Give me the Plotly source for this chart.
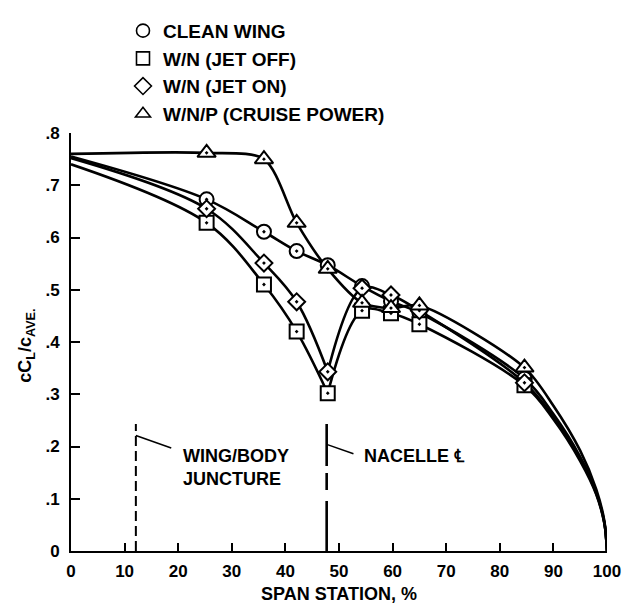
import plotly.graph_objects as go

# Spanwise stations (% semispan) where pressure data were taken
stations = [25.3, 36.0, 42.1, 47.9, 54.3, 59.7, 65.0, 84.6]

# Section loading cCl/cAVE at each station
clean_wing = [0.673, 0.611, 0.574, 0.547, 0.507, 0.478, 0.456, 0.330]
wn_jet_off = [0.628, 0.510, 0.420, 0.302, 0.460, 0.455, 0.434, 0.317]
wn_jet_on = [0.655, 0.551, 0.477, 0.343, 0.503, 0.490, 0.460, 0.322]
wnp_cruise = [0.762, 0.750, 0.628, 0.540, 0.475, 0.465, 0.470, 0.351]

# Faired curve ends: root value and outboard tip fall-off
root_station = 0.0
tip_stations = [90.0, 95.0, 98.0, 99.5, 100.0]
root_values = {"clean": 0.755, "off": 0.740, "on": 0.752, "cruise": 0.760}
tip_values = {
    "clean": [0.262, 0.180, 0.112, 0.055, 0.0],
    "off": [0.252, 0.172, 0.108, 0.053, 0.0],
    "on": [0.256, 0.176, 0.110, 0.054, 0.0],
    "cruise": [0.278, 0.192, 0.118, 0.058, 0.0],
}

# key, legend label, values, symbol, marker size, cusp station, fairing smoothness
series = [
    ("clean", "CLEAN WING", clean_wing, "circle", 14, None, 1.0),
    ("off", "W/N (JET OFF)", wn_jet_off, "square", 14, 47.9, 1.0),
    ("on", "W/N (JET ON)", wn_jet_on, "diamond", 13, 47.9, 1.0),
    ("cruise", "W/N/P (CRUISE POWER)", wnp_cruise, "triangle-up", 16, None, 0.8),
]

# Reference stations marked on the span axis
wing_body_station = 12.1
nacelle_station = 47.7

FONT = "Liberation Sans"
INK = "black"

fig = go.Figure()

# faired curves
for key, name, vals, symbol, msize, cusp, smooth in series:
    xs = [root_station] + stations + tip_stations
    ys = [root_values[key]] + vals + tip_values[key]
    if cusp is None:
        segments = [(xs, ys)]
    else:
        k = xs.index(cusp)
        segments = [(xs[:k + 1], ys[:k + 1]), (xs[k:], ys[k:])]
    for sx, sy in segments:
        fig.add_trace(go.Scatter(
            x=sx, y=sy, mode="lines", showlegend=False, hoverinfo="skip",
            line=dict(color=INK, width=2.6, shape="spline", smoothing=smooth),
        ))

# data symbols (open, with centre dot)
for key, name, vals, symbol, msize, cusp, smooth in series:
    fig.add_trace(go.Scatter(
        x=stations, y=vals, mode="markers", showlegend=False, cliponaxis=False,
        marker=dict(symbol=symbol + "-dot", size=msize, color="white",
                    line=dict(color=INK, width=2)),
    ))

# legend keys (plain open symbols)
for key, name, vals, symbol, msize, cusp, smooth in series:
    fig.add_trace(go.Scatter(
        x=[None], y=[None], mode="markers", name=name,
        marker=dict(symbol=symbol, size=13, color="white",
                    line=dict(color=INK, width=1.6)),
    ))

shapes = [
    # wing/body juncture line and leader
    dict(type="line", xref="x", yref="y", x0=wing_body_station, x1=wing_body_station,
         y0=0, y1=0.243, line=dict(color=INK, width=2, dash="10px,5px")),
    dict(type="line", xref="x", yref="y", x0=wing_body_station, x1=18.7,
         y0=0.221, y1=0.197, line=dict(color=INK, width=1.5)),
    # nacelle centreline and leader
    dict(type="line", xref="x", yref="y", x0=nacelle_station, x1=nacelle_station,
         y0=0, y1=0.243, line=dict(color=INK, width=2.6, dash="50px,11px,17px,7px,60px")),
    dict(type="line", xref="x", yref="y", x0=nacelle_station, x1=52.7,
         y0=0.204, y1=0.186, line=dict(color=INK, width=1.5)),
]

annotations = [
    dict(x=20.5, y=0.16, xref="x", yref="y", text="WING/BODY<br>JUNCTURE",
         showarrow=False, xanchor="left", yanchor="middle", align="left",
         font=dict(family=FONT, size=18, color=INK, weight="bold")),
    dict(x=54.3, y=0.182, xref="x", yref="y", text="NACELLE \u2104",
         showarrow=False, xanchor="left", yanchor="middle",
         font=dict(family=FONT, size=18, color=INK, weight="bold")),
    dict(x=-0.083, y=0.49, xref="paper", yref="paper",
         text="cC<sub>L</sub>/c<sub>AVE.</sub>", textangle=-90,
         showarrow=False, xanchor="center", yanchor="middle",
         font=dict(family=FONT, size=18, color=INK, weight="bold")),
    dict(x=0.5, y=-0.104, xref="paper", yref="paper", text="SPAN STATION, %",
         showarrow=False, xanchor="center", yanchor="middle",
         font=dict(family=FONT, size=18, color=INK, weight="bold")),
]

fig.update_layout(
    width=633, height=610,
    margin=dict(l=71, r=17, t=120, b=59),
    plot_bgcolor="white", paper_bgcolor="white",
    shapes=shapes, annotations=annotations,
    legend=dict(x=0.097, y=1.29, xanchor="left", yanchor="top",
                bgcolor="rgba(0,0,0,0)", borderwidth=0,
                font=dict(family=FONT, size=19, color=INK, weight="bold")),
    xaxis=dict(range=[0, 100], tickvals=list(range(0, 101, 10)),
               showgrid=False, zeroline=False, showline=True,
               linecolor=INK, linewidth=2, ticks="inside", ticklen=8,
               tickwidth=1.5, tickcolor=INK, ticklabelstandoff=4,
               tickfont=dict(family=FONT, size=17, color=INK, weight="bold")),
    yaxis=dict(range=[0, 0.8], tickvals=[i / 10 for i in range(9)],
               ticktext=["0", ".1", ".2", ".3", ".4", ".5", ".6", ".7", ".8"],
               showgrid=False, zeroline=False, showline=True,
               linecolor=INK, linewidth=2, ticks="inside", ticklen=9,
               tickwidth=1.5, tickcolor=INK, ticklabelstandoff=6,
               tickfont=dict(family=FONT, size=17, color=INK, weight="bold")),
)

fig.write_html("out.html")
